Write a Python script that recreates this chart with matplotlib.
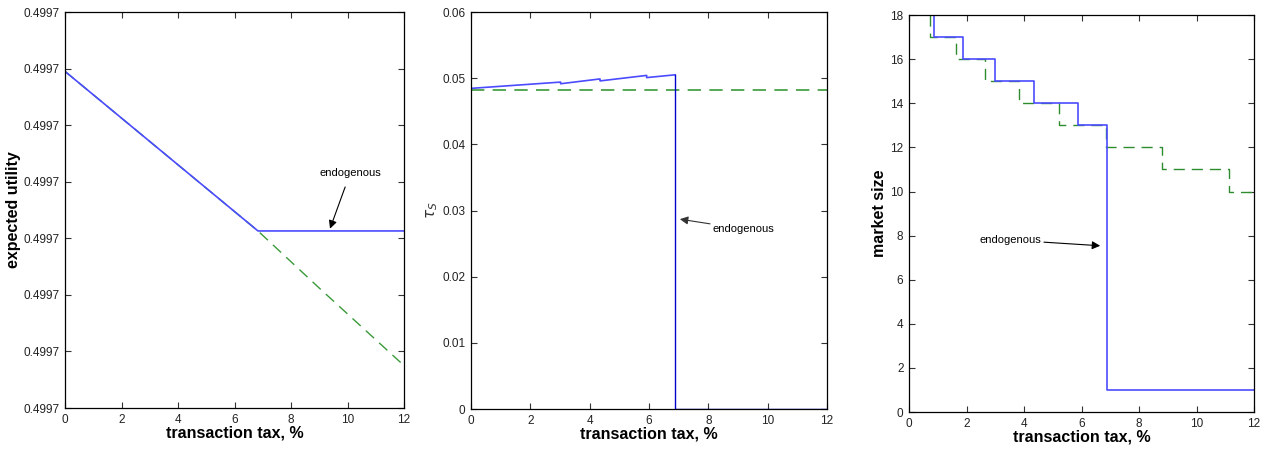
import matplotlib.pyplot as plt
from matplotlib.ticker import FormatStrFormatter

plt.rcParams['font.family'] = ['Liberation Sans', 'DejaVu Sans']

# panel 1: expected utility (offsets in 1e-5 above 0.49967)
tax_eu_blue = [0, 6.83, 12]
eu_blue = [5.95, 3.13, 3.13]
tax_eu_green = [0, 6.83, 9.0, 12]
eu_green = [5.95, 3.13, 2.12, 0.75]

# panel 2: tau_S
tax_tau_blue = [0, 3.02, 3.02, 4.35, 4.35, 5.92, 5.92, 6.88, 6.88, 12]
tau_blue = [0.04847, 0.04942, 0.04917, 0.0499, 0.0496, 0.05043, 0.0501, 0.05052, 0, 0]
tax_tau_green = [0, 12]
tau_green = [0.04826, 0.04826]

# panel 3: market size
tax_ms_blue = [0.87, 0.87, 1.88, 1.88, 2.99, 2.99, 4.35, 4.35, 5.88, 5.88, 6.87, 6.87, 12]
ms_blue = [18, 17, 17, 16, 16, 15, 15, 14, 14, 13, 13, 1, 1]
tax_ms_green = [0.73, 0.73, 1.64, 1.64, 2.65, 2.65, 3.83, 3.83, 5.2, 5.2, 6.84, 6.84,
                8.79, 8.79, 11.14, 11.14, 12]
ms_green = [18, 17, 17, 16, 16, 15, 15, 14, 14, 13, 13, 12, 12, 11, 11, 10, 10]

blue = '#4b4bff'
green = '#3a9a3a'
tick_fs = 8.5
lab_fs = 11.5

fig = plt.figure(figsize=(12.83, 4.5), dpi=100)


def style(ax):
    ax.tick_params(direction='in', top=True, right=True, labelsize=tick_fs,
                   length=4, width=0.8, colors='#333333', labelcolor='#222222', pad=4)
    for s in ax.spines.values():
        s.set_linewidth(0.9)
    ax.set_xlim(0, 12)
    ax.set_xticks(range(0, 13, 2))
    ax.set_xlabel('transaction tax, %', fontsize=lab_fs, fontweight='bold', labelpad=0)


# panel 1
ax1 = fig.add_axes([0.0507, 0.0933, 0.2642, 0.88])
base = 0.49967
ax1.plot(tax_eu_green, [base + v * 1e-5 for v in eu_green], color=green, lw=1, ls=(0, (8, 5)))
ax1.plot(tax_eu_blue, [base + v * 1e-5 for v in eu_blue], color=blue, lw=1.2)
ax1.set_ylim(base, base + 7e-5)
ax1.set_yticks([base + k * 1e-5 for k in range(8)])
ax1.yaxis.set_major_formatter(FormatStrFormatter('%.4f'))
style(ax1)
ax1.set_ylabel('expected utility', fontsize=lab_fs, fontweight='bold', labelpad=2)
ax1.annotate('endogenous', xy=(9.38, base + 3.17e-5), xytext=(10.1, base + 4.16e-5),
             fontsize=8, ha='center', va='center',
             arrowprops=dict(arrowstyle='-|>', color='black', lw=0.8, mutation_scale=12,
                             shrinkA=5, shrinkB=0))

# panel 2
ax2 = fig.add_axes([0.3671, 0.0911, 0.2775, 0.882])
ax2.plot(tax_tau_green, tau_green, color=green, lw=1.2, ls=(0, (8, 5)))
ax2.plot(tax_tau_blue[:8], tau_blue[:8], color=blue, lw=1.2)
ax2.plot(tax_tau_blue[7:], tau_blue[7:], color='#0000cc', lw=1)
ax2.set_ylim(0, 0.06)
ax2.set_yticks([0, 0.01, 0.02, 0.03, 0.04, 0.05, 0.06])
ax2.set_yticklabels(['0', '0.01', '0.02', '0.03', '0.04', '0.05', '0.06'])
style(ax2)
ax2.set_ylabel(r'$\tau_S$', fontsize=11, labelpad=2, color='#333333')
ax2.annotate('endogenous', xy=(7.04, 0.0287), xytext=(8.15, 0.0272),
             fontsize=8, ha='left', va='center',
             arrowprops=dict(arrowstyle='-|>', color='#333333', lw=0.8, mutation_scale=12,
                             shrinkA=0, shrinkB=0))

# panel 3
ax3 = fig.add_axes([0.7085, 0.0844, 0.2689, 0.882])
ax3.plot(tax_ms_green, ms_green, color='#2e8b2e', lw=1, ls=(0, (8, 5)))
ax3.plot(tax_ms_blue, ms_blue, color=blue, lw=1.2)
ax3.set_ylim(0, 18)
ax3.set_yticks(range(0, 19, 2))
style(ax3)
ax3.set_ylabel('market size', fontsize=lab_fs, fontweight='bold', labelpad=2)
ax3.annotate('endogenous', xy=(6.65, 7.54), xytext=(2.45, 7.8),
             fontsize=8, ha='left', va='center',
             arrowprops=dict(arrowstyle='-|>', color='black', lw=0.8, mutation_scale=12,
                             shrinkA=0, shrinkB=0))

fig.savefig('out.png', dpi=100)
